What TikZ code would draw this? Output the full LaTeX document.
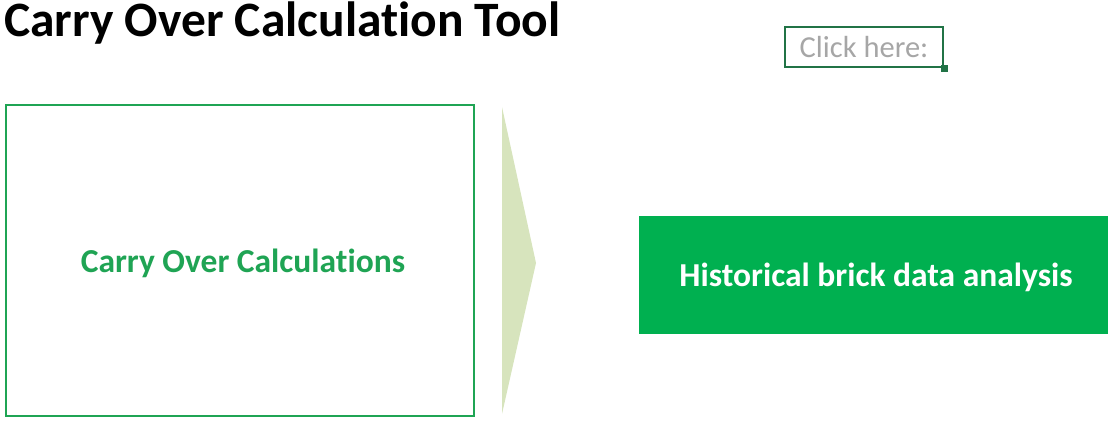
\documentclass[tikz,border=0pt]{standalone}
\usepackage{fontspec}
\setmainfont{Carlito}[Ligatures=NoCommon]
\definecolor{boxgreen}{HTML}{1FA454}
\definecolor{fillgreen}{HTML}{00B050}
\definecolor{arrowgreen}{HTML}{D7E4BD}
\definecolor{selgreen}{HTML}{217346}
\definecolor{hintgray}{HTML}{A6A6A6}
\begin{document}
\begin{tikzpicture}[x=1pt,y=-1pt,
  titletext/.style={font=\fontsize{49.5}{52}\selectfont\bfseries, anchor=west, inner sep=0pt},
  outlinebox/.style={draw=boxgreen, line width=2pt, fill=white, minimum width=468pt, minimum height=311pt},
  filledbox/.style={fill=fillgreen, minimum width=469pt, minimum height=118pt},
  greentext/.style={font=\fontsize{33.5}{36}\selectfont\bfseries, text=boxgreen},
  whitetext/.style={font=\fontsize{33.5}{36}\selectfont\bfseries, text=white},
  hintbox/.style={draw=selgreen, line width=2.5pt, minimum width=158pt, minimum height=40pt, font=\fontsize{30.5}{32}\selectfont, text=hintgray},
  chevron/.style={fill=arrowgreen, draw=none}
]
\useasboundingbox (0,0) rectangle (1113,422);
\node[titletext] (title) at (4,23) {Carry Over Calculation Tool};
\node[outlinebox] (calc) at (240,260.5) {};
\node[greentext] (calctext) at (243,263) {Carry Over Calculations};
\fill[chevron] (502,107) -- (536,263) -- (502,414) -- cycle;
\node[filledbox] (hist) at (873.5,275) {};
\node[whitetext] (histtext) at (876,277) {Historical brick data analysis};
\node[hintbox] (click) at (864,47) {Click here:};
\fill[selgreen] (click.south east) ++(-3.5,-3.5) rectangle ++(7,7);
\end{tikzpicture}
\end{document}
